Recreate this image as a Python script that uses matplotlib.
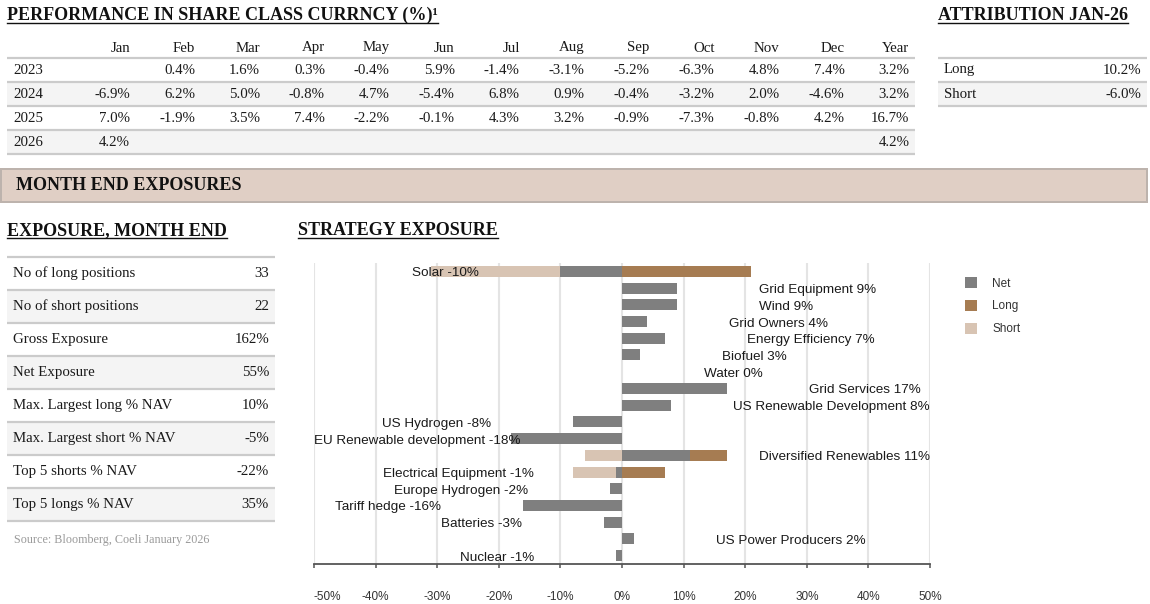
import matplotlib
matplotlib.use("Agg")
import matplotlib.pyplot as plt
from matplotlib.patches import Rectangle, Patch
from matplotlib.lines import Line2D
import matplotlib.transforms as mtransforms

# ---------------- data ----------------
months = ["Jan", "Feb", "Mar", "Apr", "May", "Jun", "Jul", "Aug", "Sep", "Oct", "Nov", "Dec", "Year"]
perf_years = ["2023", "2024", "2025", "2026"]
perf_2023 = [None, 0.4, 1.6, 0.3, -0.4, 5.9, -1.4, -3.1, -5.2, -6.3, 4.8, 7.4, 3.2]
perf_2024 = [-6.9, 6.2, 5.0, -0.8, 4.7, -5.4, 6.8, 0.9, -0.4, -3.2, 2.0, -4.6, 3.2]
perf_2025 = [7.0, -1.9, 3.5, 7.4, -2.2, -0.1, 4.3, 3.2, -0.9, -7.3, -0.8, 4.2, 16.7]
perf_2026 = [4.2, None, None, None, None, None, None, None, None, None, None, None, 4.2]

attr_labels = ["Long", "Short"]
attr_values = [10.2, -6.0]

exp_labels = ["No of long positions", "No of short positions", "Gross Exposure", "Net Exposure",
              "Max. Largest long % NAV", "Max. Largest short % NAV", "Top 5 shorts % NAV",
              "Top 5 longs % NAV"]
exp_values = ["33", "22", "162%", "55%", "10%", "-5%", "-22%", "35%"]

strategies = ["Solar", "Grid Equipment", "Wind", "Grid Owners", "Energy Efficiency", "Biofuel",
              "Water", "Grid Services", "US Renewable Development", "US Hydrogen",
              "EU Renewable development", "Diversified Renewables", "Electrical Equipment",
              "Europe Hydrogen", "Tariff hedge", "Batteries", "US Power Producers", "Nuclear"]
net_exp = [-10, 9, 9, 4, 7, 3, 0, 17, 8, -8, -18, 11, -1, -2, -16, -3, 2, -1]
long_exp = [21, 9, 9, 4, 7, 3, 0, 17, 8, 0, 0, 17, 7, 0, 0, 0, 2, 0]
short_exp = [-31, 0, 0, 0, 0, 0, 0, 0, 0, -8, -18, -6, -8, -2, -16, -3, 0, -1]
series_names = ["Net", "Long", "Short"]
x_ticks = [-50, -40, -30, -20, -10, 0, 10, 20, 30, 40, 50]

source_text = "Source: Bloomberg, Coeli January 2026"

# ---------------- style ----------------
SERIF = ["Liberation Serif", "DejaVu Serif"]
SANS = ["Liberation Sans", "DejaVu Sans"]
C_NET = "#7f7f7f"
C_LONG = "#a67c52"
C_SHORT = "#d8c4b3"
LINE_C = "#cbcbcb"
ROW_BG = "#f4f4f4"
TXT = "#1a1a1a"
FS_TAB = 10.7

W, H = 1150, 604
fig = plt.figure(figsize=(W / 100, H / 100), dpi=100)
page = fig.add_axes([0, 0, 1, 1])
page.set_xlim(0, W)
page.set_ylim(H, 0)
page.axis("off")

LW_ROW = 2.2 * 72 / 100  # pixels -> points

headings = []


def heading(x, y_base, s):
    t = page.text(x, y_base, s, fontsize=13, fontweight="bold", family=SERIF,
                  va="baseline", ha="left", color="#111111")
    headings.append((t, y_base))


def hline(x0, x1, y):
    page.add_line(Line2D([x0, x1], [y, y], color=LINE_C, lw=LW_ROW, solid_capstyle="butt"))


def row_bg(x0, x1, y0, y1):
    page.add_patch(Rectangle((x0, y0), x1 - x0, y1 - y0, facecolor=ROW_BG, edgecolor="none"))


def fmt(v):
    return "" if v is None else f"{v:.1f}%"


# ---- Performance table ----
heading(7, 19.5, "PERFORMANCE IN SHARE CLASS CURRNCY (%)¹")
col_right = [130 + 64.96 * i for i in range(len(months))]
tx0, tx1 = 7, 915
header_y = 48
row_h = 24
first_line = 57.5
perf_rows = [perf_2023, perf_2024, perf_2025, perf_2026]
for i in range(len(perf_years)):
    y0 = first_line + i * row_h
    if i % 2 == 1:
        row_bg(tx0, tx1, y0, y0 + row_h)
for i in range(len(perf_years) + 1):
    hline(tx0, tx1, first_line + i * row_h)
for j, m in enumerate(months):
    page.text(col_right[j], header_y, m, fontsize=FS_TAB, family=SERIF, ha="right",
              va="center", color=TXT)
for i, (yr, vals) in enumerate(zip(perf_years, perf_rows)):
    yc = first_line + i * row_h + row_h / 2 + 0.5
    page.text(13, yc, yr, fontsize=FS_TAB, family=SERIF, ha="left", va="center", color=TXT)
    for j, v in enumerate(vals):
        page.text(col_right[j], yc, fmt(v), fontsize=FS_TAB, family=SERIF, ha="right",
                  va="center", color=TXT)

# ---- Attribution table ----
heading(938, 19.5, "ATTRIBUTION JAN-26")
ax0, ax1 = 938, 1147
for i in range(len(attr_labels)):
    y0 = first_line + i * row_h
    if i % 2 == 1:
        row_bg(ax0, ax1, y0, y0 + row_h)
for i in range(len(attr_labels) + 1):
    hline(ax0, ax1, first_line + i * row_h)
for i, (lab, v) in enumerate(zip(attr_labels, attr_values)):
    yc = first_line + i * row_h + row_h / 2 + 0.5
    page.text(944, yc, lab, fontsize=FS_TAB, family=SERIF, ha="left", va="center", color=TXT)
    page.text(1141, yc, fmt(v), fontsize=FS_TAB, family=SERIF, ha="right", va="center", color=TXT)

# ---- Month end exposures band ----
page.add_patch(Rectangle((0.5, 168.5), 1146, 33.5, facecolor="#e0cfc5", edgecolor="#bdb3ad",
                         lw=2 * 72 / 100))
page.text(16, 185.5, "MONTH END EXPOSURES", fontsize=13, fontweight="bold", family=SERIF,
          va="center", ha="left", color="#111111")

# ---- Exposure table ----
heading(7, 235, "EXPOSURE, MONTH END")
heading(298, 235, "STRATEGY EXPOSURE")
ex0, ex1 = 7, 275
e_first = 256.5
e_h = 33
for i in range(len(exp_labels)):
    y0 = e_first + i * e_h
    if i % 2 == 1:
        row_bg(ex0, ex1, y0, y0 + e_h)
for i in range(len(exp_labels) + 1):
    hline(ex0, ex1, e_first + i * e_h)
for i, (lab, v) in enumerate(zip(exp_labels, exp_values)):
    yc = e_first + i * e_h + e_h / 2 + 0.5
    page.text(13, yc, lab, fontsize=FS_TAB, family=SERIF, ha="left", va="center", color=TXT)
    page.text(269, yc, v, fontsize=FS_TAB, family=SERIF, ha="right", va="center", color=TXT)
page.text(14, 540.5, source_text, fontsize=8.7, family=SERIF, ha="left", va="center",
          color="#9a9a9a")

# ---- Strategy exposure chart ----
L, R, T, B = 314, 930, 263, 564
ax = fig.add_axes([L / W, (H - B) / H, (R - L) / W, (B - T) / H])
ax.set_facecolor("none")
ypos = list(range(len(strategies)))
bh = 0.66
ax.barh(ypos, long_exp, height=bh, color=C_LONG, zorder=2, label=series_names[1])
ax.barh(ypos, short_exp, height=bh, color=C_SHORT, zorder=2, label=series_names[2])
ax.barh(ypos, net_exp, height=bh, color=C_NET, zorder=3, label=series_names[0])
ax.set_xlim(-50, 50)
ax.set_ylim(len(strategies) - 0.5, -0.5)
ax.set_yticks([])
ax.set_xticks(x_ticks)
ax.set_xticklabels([f"{v}%" for v in x_ticks])
for s in ["top", "left", "right"]:
    ax.spines[s].set_visible(False)
ax.spines["bottom"].set_color("#555555")
ax.spines["bottom"].set_linewidth(1.3)
ax.tick_params(axis="x", direction="out", length=3, width=1.1, color="#555555",
               pad=16.5, labelsize=8.5, labelcolor="#333333")
for tl in ax.get_xticklabels():
    tl.set_fontfamily(SANS)
ax.get_xticklabels()[0].set_horizontalalignment("left")
ax.grid(axis="x", color="#e4e4e4", lw=1.5)
ax.set_axisbelow(True)

# bar labels, offset outward from net bar end
labels = []
for i, (name, v) in enumerate(zip(strategies, net_exp)):
    sign = 1 if v >= 0 else -1
    tr = mtransforms.offset_copy(ax.transData, fig=fig, x=sign * 82 * 72 / 100, y=0, units="points")
    t = ax.text(v, i + 0.12, f"{name} {v}%", transform=tr, fontsize=9.7, family=SANS,
                ha="left" if sign > 0 else "right", va="center", color=TXT, zorder=5)
    labels.append(t)

# legend
handles = [Patch(facecolor=C_NET), Patch(facecolor=C_LONG), Patch(facecolor=C_SHORT)]
leg = fig.legend(handles, series_names, loc="upper left",
                 bbox_to_anchor=(960 / W, (H - 272.5) / H), frameon=False,
                 prop={"family": SANS, "size": 8.5}, handlelength=1.0, handleheight=1.0,
                 handletextpad=1.35, labelspacing=0.9, borderaxespad=0)
for txt in leg.get_texts():
    txt.set_color("#333333")

# ---- post layout: underlines and label clamping ----
fig.canvas.draw()
renderer = fig.canvas.get_renderer()
for t, yb in headings:
    bb = t.get_window_extent(renderer)
    page.add_line(Line2D([bb.x0, bb.x1], [yb + 3, yb + 3], color="#111111", lw=1.4 * 72 / 100))

px_per_unit = (R - L) / 100.0
for t, v in zip(labels, net_exp):
    bb = t.get_window_extent(renderer)
    shift = 0
    if bb.x1 > R:
        shift = R - bb.x1
    elif bb.x0 < L:
        shift = L - bb.x0
    if shift:
        x, y = t.get_position()
        t.set_position((x + shift / px_per_unit, y))

fig.savefig("out.png", dpi=100)
